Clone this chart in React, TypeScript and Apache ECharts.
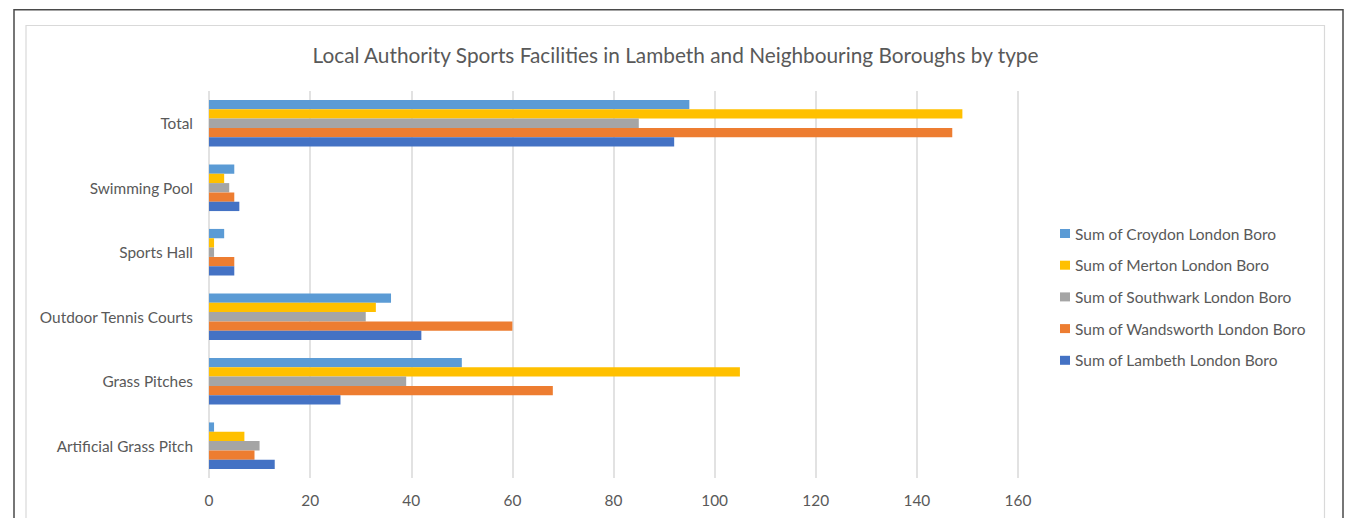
import React, { useEffect, useRef } from "react";
import * as echarts from "echarts";

const categories = [
  "Artificial Grass Pitch",
  "Grass Pitches",
  "Outdoor Tennis Courts",
  "Sports Hall",
  "Swimming Pool",
  "Total",
];

const croydon = [1, 50, 36, 3, 5, 95];
const merton = [7, 105, 33, 1, 3, 149];
const southwark = [10, 39, 31, 1, 4, 85];
const wandsworth = [9, 68, 60, 5, 5, 147];
const lambeth = [13, 26, 42, 5, 6, 92];

const seriesNames = [
  "Sum of Croydon London Boro",
  "Sum of Merton London Boro",
  "Sum of Southwark London Boro",
  "Sum of Wandsworth London Boro",
  "Sum of Lambeth London Boro",
];
const seriesColors = ["#5B9BD5", "#FFC000", "#A5A5A5", "#ED7D31", "#4472C4"];
const seriesData = [croydon, merton, southwark, wandsworth, lambeth];

const FONT = "Lato, 'Open Sans', sans-serif";

export default function App() {
  const ref = useRef<HTMLDivElement>(null);
  useEffect(() => {
    if (!ref.current) return;
    const chart = echarts.init(ref.current, null, { renderer: "svg" });
    chart.setOption({
      animation: false,
      backgroundColor: "#ffffff",
      title: {
        text: "Local Authority Sports Facilities in Lambeth and Neighbouring Boroughs by type",
        left: 670.5,
        top: 39,
        textAlign: "center",
        textStyle: {
          fontFamily: FONT,
          fontSize: 20.8,
          fontWeight: "normal",
          color: "#595959",
        },
      },
      legend: {
        orient: "vertical",
        left: 1060,
        top: 225.5,
        padding: 0,
        itemWidth: 10,
        itemHeight: 9,
        itemGap: 15.7,
        icon: "rect",
        data: seriesNames,
        textStyle: {
          fontFamily: FONT,
          fontSize: 15.5,
          color: "#595959",
          lineHeight: 16,
        },
      },
      grid: {
        left: 209,
        right: 328,
        top: 91,
        bottom: 40,
        containLabel: false,
      },
      xAxis: {
        type: "value",
        min: 0,
        max: 160,
        interval: 20,
        axisLine: { show: false },
        axisTick: { show: false },
        axisLabel: {
          fontFamily: FONT,
          fontSize: 15.4,
          color: "#595959",
          margin: 14,
        },
        splitLine: { lineStyle: { color: "#D9D9D9", width: 1.5 } },
      },
      yAxis: {
        type: "category",
        data: categories,
        axisLine: { show: false },
        axisTick: { show: false },
        axisLabel: {
          fontFamily: FONT,
          fontSize: 15.4,
          color: "#595959",
          margin: 16,
        },
      },
      series: seriesNames.map((name, i) => ({
        name,
        type: "bar",
        data: seriesData[i],
        itemStyle: { color: seriesColors[i] },
        barGap: "0%",
        barCategoryGap: "27.7%",
      })),
      graphic: [
        {
          type: "rect",
          shape: { x: 14, y: 9.75, width: 1329, height: 520 },
          style: { fill: "none", stroke: "#4a4a4a", lineWidth: 1.5 },
          silent: true,
        },
        {
          type: "rect",
          shape: { x: 26, y: 25.5, width: 1298.5, height: 510 },
          style: { fill: "none", stroke: "#D9D9D9", lineWidth: 1.2 },
          silent: true,
        },
      ],
    });
    return () => chart.dispose();
  }, []);
  return (
    <div
      ref={ref}
      style={{ position: "absolute", left: 0, top: 0, width: 1346, height: 518 }}
    />
  );
}
